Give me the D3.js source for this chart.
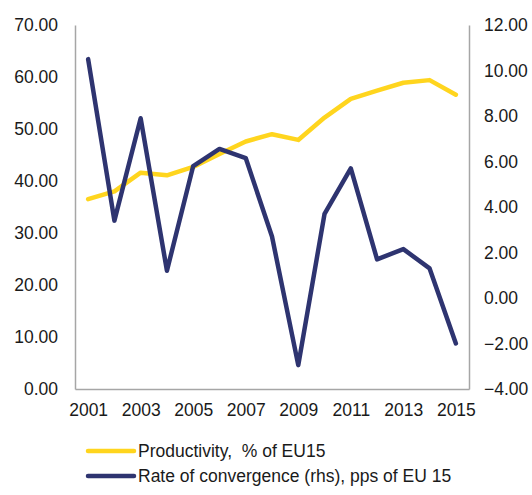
<!DOCTYPE html>
<html>
<head>
<meta charset="utf-8">
<script src="https://cdn.jsdelivr.net/npm/d3@7"></script>
<style>
  body { margin: 0; background: #fff; }
  text { font-family: "Liberation Sans", Arial, sans-serif; fill: #1a1a1a; }
</style>
</head>
<body>
<div id="chart"></div>
<script>
// data
var years = [2001, 2002, 2003, 2004, 2005, 2006, 2007, 2008, 2009, 2010, 2011, 2012, 2013, 2014, 2015];
var productivity = [36.5, 38.0, 41.6, 41.1, 42.7, 45.2, 47.6, 49.0, 47.9, 52.2, 55.8, 57.4, 58.9, 59.4, 56.6];
var convergence = [10.5, 3.4, 7.9, 1.2, 5.8, 6.55, 6.15, 2.7, -2.95, 3.7, 5.7, 1.7, 2.15, 1.3, -2.0];
var leftTicks = [0, 10, 20, 30, 40, 50, 60, 70];
var rightTicks = [-4, -2, 0, 2, 4, 6, 8, 10, 12];
var xLabels = [2001, 2003, 2005, 2007, 2009, 2011, 2013, 2015];
var seriesNames = ["Productivity,  % of EU15", "Rate of convergence (rhs), pps of EU 15"];
var colors = ["#FFD51E", "#2E3470"];

var width = 532, height = 495;
var margin = { left: 75, right: 469, top: 25, bottom: 389 };

var svg = d3.select("#chart").append("svg")
    .attr("width", width)
    .attr("height", height);

var x = d3.scalePoint().domain(years).range([margin.left, margin.right]).padding(0.5);
var yL = d3.scaleLinear().domain([0, 70]).range([margin.bottom, margin.top]);
var yR = d3.scaleLinear().domain([-4, 12]).range([margin.bottom, margin.top]);

// axes
var axL = svg.append("g").attr("transform", "translate(" + margin.left + ",0)")
    .call(d3.axisLeft(yL).tickValues(leftTicks).tickSize(0).tickPadding(17).tickFormat(d3.format(".2f")));
var axR = svg.append("g").attr("transform", "translate(" + margin.right + ",0)")
    .call(d3.axisRight(yR).tickValues(rightTicks).tickSize(0).tickPadding(15).tickFormat(d3.format(".2f")));
var axB = svg.append("g").attr("transform", "translate(0," + margin.bottom + ")")
    .call(d3.axisBottom(x).tickValues(xLabels).tickSize(0).tickPadding(15));

[axL, axR, axB].forEach(function (g) {
    g.select(".domain").attr("stroke", "#a6a6a6").attr("stroke-width", 1.5);
    g.selectAll("text").style("font-size", "17.5px").attr("fill", "#1a1a1a")
        .style("font-family", "'Liberation Sans', Arial, sans-serif");
});
axR.selectAll("text").attr("text-anchor", "start");

// lines
var lineL = d3.line().x(function (d, i) { return x(years[i]); }).y(function (d) { return yL(d); });
var lineR = d3.line().x(function (d, i) { return x(years[i]); }).y(function (d) { return yR(d); });

svg.append("path").datum(productivity)
    .attr("d", lineL)
    .attr("fill", "none")
    .attr("stroke", colors[0])
    .attr("stroke-width", 4.5)
    .attr("stroke-linejoin", "round")
    .attr("stroke-linecap", "round");

svg.append("path").datum(convergence)
    .attr("d", lineR)
    .attr("fill", "none")
    .attr("stroke", colors[1])
    .attr("stroke-width", 4.5)
    .attr("stroke-linejoin", "round")
    .attr("stroke-linecap", "round");

// legend
var legend = svg.selectAll(".legend")
    .data(seriesNames)
    .enter()
    .append("g")
    .attr("transform", function (d, i) { return "translate(88," + (451 + i * 25) + ")"; });

legend.append("line")
    .attr("x1", 0).attr("x2", 46)
    .attr("stroke", function (d, i) { return colors[i]; })
    .attr("stroke-width", 4.5)
    .attr("stroke-linecap", "round");

legend.append("text")
    .attr("x", 50)
    .attr("dy", "0.35em")
    .style("font-size", "17.5px")
    .style("white-space", "pre")
    .text(function (d) { return d; });
</script>
</body>
</html>
